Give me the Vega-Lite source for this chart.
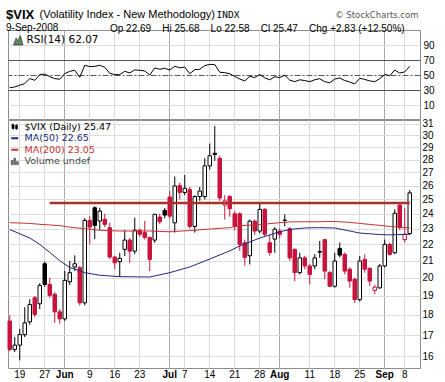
{
  "$schema": "https://vega.github.io/schema/vega-lite/v6.json",
  "padding": {"left": 5, "top": 7, "right": 0, "bottom": 0},
  "autosize": {"type": "pad"},
  "background": "white",
  "config": {
    "font": "Liberation Sans",
    "view": {"stroke": "#8c8c8c", "strokeWidth": 1},
    "axis": {"labelFont": "Liberation Sans", "labelFontSize": 10, "labelColor": "#000", "ticks": false, "domain": false, "titleFont": "Liberation Sans", "titleFontWeight": "normal", "titleColor": "#000"},
    "legend": {"labelFont": "DejaVu Sans", "labelFontSize": 9.5, "padding": 0, "offset": 2, "orient": "top-left", "title": null, "rowPadding": 0.5, "labelOffset": 4}
  },
  "datasets": {
    "ohlc": [
      {"date": "2008-05-15", "open": 17.69, "high": 17.99, "low": 16.24, "close": 16.32},
      {"date": "2008-05-16", "open": 16.32, "high": 16.9, "low": 16.2, "close": 16.52},
      {"date": "2008-05-19", "open": 16.52, "high": 17.3, "low": 15.82, "close": 17.02},
      {"date": "2008-05-20", "open": 17.02, "high": 18.4, "low": 16.9, "close": 17.6},
      {"date": "2008-05-21", "open": 17.65, "high": 18.82, "low": 17.5, "close": 18.54},
      {"date": "2008-05-22", "open": 18.9, "high": 19.0, "low": 17.9, "close": 18.03},
      {"date": "2008-05-23", "open": 18.58, "high": 19.7, "low": 18.3, "close": 19.58},
      {"date": "2008-05-27", "open": 20.82, "high": 20.95, "low": 19.5, "close": 19.63},
      {"date": "2008-05-28", "open": 19.63, "high": 20.0, "low": 18.9, "close": 19.03},
      {"date": "2008-05-29", "open": 19.09, "high": 19.2, "low": 17.6, "close": 18.16},
      {"date": "2008-05-30", "open": 18.16, "high": 18.3, "low": 17.55, "close": 17.8},
      {"date": "2008-06-02", "open": 17.8, "high": 20.39, "low": 17.7, "close": 19.86},
      {"date": "2008-06-03", "open": 19.78, "high": 20.98, "low": 19.6, "close": 20.3},
      {"date": "2008-06-04", "open": 20.63, "high": 21.32, "low": 20.4, "close": 20.82},
      {"date": "2008-06-05", "open": 20.59, "high": 20.7, "low": 18.5, "close": 18.63},
      {"date": "2008-06-06", "open": 18.63, "high": 23.7, "low": 18.5, "close": 23.55},
      {"date": "2008-06-09", "open": 23.55, "high": 23.85, "low": 22.0, "close": 23.11},
      {"date": "2008-06-10", "open": 24.41, "high": 24.5, "low": 22.33, "close": 23.22},
      {"date": "2008-06-11", "open": 23.51, "high": 24.41, "low": 22.92, "close": 24.18},
      {"date": "2008-06-12", "open": 23.62, "high": 24.0, "low": 23.1, "close": 23.29},
      {"date": "2008-06-13", "open": 23.07, "high": 23.4, "low": 21.1, "close": 21.22},
      {"date": "2008-06-16", "open": 21.22, "high": 21.3, "low": 20.5, "close": 20.88},
      {"date": "2008-06-17", "open": 20.94, "high": 21.48, "low": 20.06, "close": 21.14},
      {"date": "2008-06-18", "open": 21.69, "high": 22.9, "low": 21.28, "close": 22.27},
      {"date": "2008-06-19", "open": 22.27, "high": 22.4, "low": 20.88, "close": 21.58},
      {"date": "2008-06-20", "open": 21.58, "high": 23.73, "low": 21.4, "close": 22.9},
      {"date": "2008-06-23", "open": 22.9, "high": 23.0, "low": 22.5, "close": 22.64},
      {"date": "2008-06-24", "open": 22.75, "high": 23.51, "low": 22.3, "close": 22.43},
      {"date": "2008-06-25", "open": 22.43, "high": 22.5, "low": 20.39, "close": 21.08},
      {"date": "2008-06-26", "open": 22.27, "high": 24.0, "low": 22.1, "close": 23.96},
      {"date": "2008-06-27", "open": 23.78, "high": 24.0, "low": 23.3, "close": 23.46},
      {"date": "2008-06-30", "open": 24.23, "high": 24.4, "low": 23.7, "close": 23.91},
      {"date": "2008-07-01", "open": 25.17, "high": 25.6, "low": 23.7, "close": 23.84},
      {"date": "2008-07-02", "open": 23.39, "high": 26.68, "low": 22.75, "close": 25.97},
      {"date": "2008-07-03", "open": 26.0, "high": 26.2, "low": 25.0, "close": 25.5},
      {"date": "2008-07-07", "open": 25.5, "high": 26.8, "low": 25.3, "close": 25.8},
      {"date": "2008-07-08", "open": 25.7, "high": 25.9, "low": 23.0, "close": 23.15},
      {"date": "2008-07-09", "open": 23.15, "high": 25.3, "low": 22.75, "close": 25.2},
      {"date": "2008-07-10", "open": 25.2, "high": 25.9, "low": 24.9, "close": 25.6},
      {"date": "2008-07-11", "open": 25.2, "high": 28.1, "low": 25.0, "close": 27.5},
      {"date": "2008-07-14", "open": 27.5, "high": 29.3, "low": 27.2, "close": 28.3},
      {"date": "2008-07-15", "open": 28.5, "high": 30.8, "low": 27.9, "close": 28.4},
      {"date": "2008-07-16", "open": 28.1, "high": 28.3, "low": 24.9, "close": 25.1},
      {"date": "2008-07-17", "open": 24.6, "high": 25.3, "low": 23.6, "close": 24.9},
      {"date": "2008-07-18", "open": 25.2, "high": 25.3, "low": 23.8, "close": 24.35},
      {"date": "2008-07-21", "open": 24.0, "high": 24.2, "low": 22.9, "close": 23.15},
      {"date": "2008-07-22", "open": 24.0, "high": 24.1, "low": 21.6, "close": 22.0},
      {"date": "2008-07-23", "open": 22.1, "high": 22.3, "low": 20.7, "close": 21.2},
      {"date": "2008-07-24", "open": 21.3, "high": 23.6, "low": 20.78, "close": 23.5},
      {"date": "2008-07-25", "open": 23.5, "high": 23.6, "low": 22.6, "close": 22.85},
      {"date": "2008-07-28", "open": 22.85, "high": 24.7, "low": 22.7, "close": 24.3},
      {"date": "2008-07-29", "open": 24.3, "high": 24.4, "low": 22.5, "close": 22.64},
      {"date": "2008-07-30", "open": 22.1, "high": 22.6, "low": 21.3, "close": 21.5},
      {"date": "2008-07-31", "open": 22.33, "high": 23.1, "low": 21.48, "close": 22.97},
      {"date": "2008-08-01", "open": 22.85, "high": 23.0, "low": 22.4, "close": 22.64},
      {"date": "2008-08-04", "open": 23.57, "high": 23.96, "low": 23.15, "close": 23.55},
      {"date": "2008-08-05", "open": 23.0, "high": 23.1, "low": 21.0, "close": 21.17},
      {"date": "2008-08-06", "open": 21.69, "high": 21.75, "low": 19.82, "close": 20.3},
      {"date": "2008-08-07", "open": 20.3, "high": 21.48, "low": 20.2, "close": 21.17},
      {"date": "2008-08-08", "open": 21.17, "high": 21.3, "low": 20.5, "close": 20.69},
      {"date": "2008-08-11", "open": 20.69, "high": 20.8, "low": 19.63, "close": 20.2},
      {"date": "2008-08-12", "open": 20.69, "high": 21.4, "low": 20.5, "close": 21.17},
      {"date": "2008-08-13", "open": 21.56, "high": 22.21, "low": 21.17, "close": 21.52},
      {"date": "2008-08-14", "open": 22.3, "high": 22.35, "low": 19.92, "close": 20.39},
      {"date": "2008-08-15", "open": 20.3, "high": 20.4, "low": 19.5, "close": 19.53},
      {"date": "2008-08-18", "open": 19.53, "high": 21.48, "low": 19.45, "close": 20.98},
      {"date": "2008-08-19", "open": 21.75, "high": 22.11, "low": 21.2, "close": 21.34},
      {"date": "2008-08-20", "open": 21.38, "high": 21.5, "low": 20.2, "close": 20.39},
      {"date": "2008-08-21", "open": 20.5, "high": 20.6, "low": 19.44, "close": 19.82},
      {"date": "2008-08-22", "open": 19.92, "high": 20.0, "low": 18.63, "close": 18.8},
      {"date": "2008-08-25", "open": 18.8, "high": 21.28, "low": 18.7, "close": 20.98},
      {"date": "2008-08-26", "open": 21.08, "high": 21.38, "low": 20.3, "close": 20.5},
      {"date": "2008-08-27", "open": 20.55, "high": 20.6, "low": 19.53, "close": 19.82},
      {"date": "2008-08-28", "open": 19.3, "high": 19.6, "low": 19.1, "close": 19.48},
      {"date": "2008-08-29", "open": 19.44, "high": 20.8, "low": 19.4, "close": 20.69},
      {"date": "2008-09-02", "open": 20.69, "high": 22.3, "low": 20.6, "close": 22.0},
      {"date": "2008-09-03", "open": 22.0, "high": 22.1, "low": 21.3, "close": 21.38},
      {"date": "2008-09-04", "open": 21.48, "high": 24.3, "low": 21.4, "close": 24.03},
      {"date": "2008-09-05", "open": 24.6, "high": 24.8, "low": 22.9, "close": 23.07},
      {"date": "2008-09-08", "open": 22.3, "high": 24.4, "low": 22.1, "close": 22.64},
      {"date": "2008-09-09", "open": 22.69, "high": 25.68, "low": 22.58, "close": 25.47}
    ],
    "ma": [
      {"date": "2008-05-15", "ma50": 22.95, "ma200": 23.4},
      {"date": "2008-05-21", "ma50": 22.4, "ma200": 23.35},
      {"date": "2008-05-23", "ma50": 22.0, "ma200": 23.29},
      {"date": "2008-05-28", "ma50": 21.5, "ma200": 23.25},
      {"date": "2008-05-30", "ma50": 21.0, "ma200": 23.2},
      {"date": "2008-06-03", "ma50": 20.6, "ma200": 23.1},
      {"date": "2008-06-06", "ma50": 20.3, "ma200": 23.0},
      {"date": "2008-06-11", "ma50": 20.15, "ma200": 22.9},
      {"date": "2008-06-17", "ma50": 20.07, "ma200": 22.85},
      {"date": "2008-06-25", "ma50": 20.05, "ma200": 22.85},
      {"date": "2008-07-01", "ma50": 20.3, "ma200": 22.8},
      {"date": "2008-07-08", "ma50": 20.63, "ma200": 22.88},
      {"date": "2008-07-14", "ma50": 21.1, "ma200": 22.98},
      {"date": "2008-07-18", "ma50": 21.6, "ma200": 23.07},
      {"date": "2008-07-22", "ma50": 21.9, "ma200": 23.2},
      {"date": "2008-07-28", "ma50": 22.4, "ma200": 23.27},
      {"date": "2008-08-01", "ma50": 22.8, "ma200": 23.4},
      {"date": "2008-08-05", "ma50": 22.95, "ma200": 23.45},
      {"date": "2008-08-08", "ma50": 23.05, "ma200": 23.46},
      {"date": "2008-08-13", "ma50": 23.07, "ma200": 23.46},
      {"date": "2008-08-18", "ma50": 23.05, "ma200": 23.48},
      {"date": "2008-08-21", "ma50": 22.85, "ma200": 23.42},
      {"date": "2008-08-25", "ma50": 22.72, "ma200": 23.35},
      {"date": "2008-08-29", "ma50": 22.62, "ma200": 23.22},
      {"date": "2008-09-03", "ma50": 22.6, "ma200": 23.15},
      {"date": "2008-09-09", "ma50": 22.65, "ma200": 23.05}
    ],
    "rsi": [
      {"date": "2008-05-15", "rsi": 33.5}, {"date": "2008-05-16", "rsi": 34.4}, {"date": "2008-05-19", "rsi": 36.7},
      {"date": "2008-05-20", "rsi": 38.9}, {"date": "2008-05-21", "rsi": 45.6}, {"date": "2008-05-22", "rsi": 43.3},
      {"date": "2008-05-23", "rsi": 50.9}, {"date": "2008-05-27", "rsi": 51.5}, {"date": "2008-05-28", "rsi": 48.2},
      {"date": "2008-05-29", "rsi": 45.6}, {"date": "2008-05-30", "rsi": 44.7}, {"date": "2008-06-02", "rsi": 52.2},
      {"date": "2008-06-03", "rsi": 55.3}, {"date": "2008-06-04", "rsi": 56.7}, {"date": "2008-06-05", "rsi": 47.3},
      {"date": "2008-06-06", "rsi": 63.3}, {"date": "2008-06-09", "rsi": 61.6}, {"date": "2008-06-10", "rsi": 62.0},
      {"date": "2008-06-11", "rsi": 63.3}, {"date": "2008-06-12", "rsi": 60.7}, {"date": "2008-06-13", "rsi": 52.7},
      {"date": "2008-06-16", "rsi": 50.9}, {"date": "2008-06-17", "rsi": 50.9}, {"date": "2008-06-18", "rsi": 55.3},
      {"date": "2008-06-19", "rsi": 53.1}, {"date": "2008-06-20", "rsi": 57.1}, {"date": "2008-06-23", "rsi": 56.7},
      {"date": "2008-06-24", "rsi": 55.8}, {"date": "2008-06-25", "rsi": 50.4}, {"date": "2008-06-26", "rsi": 59.8},
      {"date": "2008-06-27", "rsi": 58.0}, {"date": "2008-06-30", "rsi": 59.3}, {"date": "2008-07-01", "rsi": 57.0},
      {"date": "2008-07-02", "rsi": 62.0}, {"date": "2008-07-03", "rsi": 60.0}, {"date": "2008-07-07", "rsi": 61.0},
      {"date": "2008-07-08", "rsi": 52.0}, {"date": "2008-07-09", "rsi": 57.5}, {"date": "2008-07-10", "rsi": 58.0},
      {"date": "2008-07-11", "rsi": 63.0}, {"date": "2008-07-14", "rsi": 64.5}, {"date": "2008-07-15", "rsi": 64.4},
      {"date": "2008-07-16", "rsi": 54.0}, {"date": "2008-07-17", "rsi": 53.5}, {"date": "2008-07-18", "rsi": 52.0},
      {"date": "2008-07-21", "rsi": 48.5}, {"date": "2008-07-22", "rsi": 45.0}, {"date": "2008-07-23", "rsi": 42.5},
      {"date": "2008-07-24", "rsi": 48.5}, {"date": "2008-07-25", "rsi": 47.0}, {"date": "2008-07-28", "rsi": 51.0},
      {"date": "2008-07-29", "rsi": 46.5}, {"date": "2008-07-30", "rsi": 44.0}, {"date": "2008-07-31", "rsi": 48.0},
      {"date": "2008-08-01", "rsi": 47.0}, {"date": "2008-08-04", "rsi": 50.0}, {"date": "2008-08-05", "rsi": 43.5},
      {"date": "2008-08-06", "rsi": 41.5}, {"date": "2008-08-07", "rsi": 44.0}, {"date": "2008-08-08", "rsi": 43.0},
      {"date": "2008-08-11", "rsi": 41.5}, {"date": "2008-08-12", "rsi": 44.0}, {"date": "2008-08-13", "rsi": 45.5},
      {"date": "2008-08-14", "rsi": 41.5}, {"date": "2008-08-15", "rsi": 40.0}, {"date": "2008-08-18", "rsi": 45.0},
      {"date": "2008-08-19", "rsi": 46.5}, {"date": "2008-08-20", "rsi": 43.0}, {"date": "2008-08-21", "rsi": 41.0},
      {"date": "2008-08-22", "rsi": 38.5}, {"date": "2008-08-25", "rsi": 46.0}, {"date": "2008-08-26", "rsi": 44.5},
      {"date": "2008-08-27", "rsi": 42.5}, {"date": "2008-08-28", "rsi": 41.5}, {"date": "2008-08-29", "rsi": 45.5},
      {"date": "2008-09-02", "rsi": 51.0}, {"date": "2008-09-03", "rsi": 49.5}, {"date": "2008-09-04", "rsi": 57.0},
      {"date": "2008-09-05", "rsi": 53.0}, {"date": "2008-09-08", "rsi": 54.5}, {"date": "2008-09-09", "rsi": 62.07}
    ]
  },
  "spacing": 1,
  "bounds": "flush",
  "resolve": {"scale": {"stroke": "independent"}, "legend": {"stroke": "independent"}},
  "vconcat": [
    {
      "width": 412,
      "height": 89,
      "title": {"text": "$VIX", "subtitle": "9-Sep-2008", "anchor": "start", "frame": "group", "offset": 1, "dx": -2, "dy": 26, "font": "Liberation Sans", "fontSize": 13, "fontWeight": "bold", "color": "#000", "subtitleFont": "Liberation Sans", "subtitleFontSize": 10, "subtitleColor": "#000", "subtitlePadding": 1},
      "data": {"name": "rsi"},
      "mark": {"type": "line", "strokeWidth": 1, "interpolate": "linear"},
      "encoding": {
        "x": {
          "field": "date", "type": "ordinal",
          "scale": {"type": "band", "paddingInner": 0.3, "paddingOuter": 0.85, "align": 0},
          "axis": {
            "orient": "top", "labels": false, "grid": true,
            "values": ["2008-05-19", "2008-05-27", "2008-06-02", "2008-06-09", "2008-06-16", "2008-06-23", "2008-07-01", "2008-07-07", "2008-07-14", "2008-07-21", "2008-07-28", "2008-08-01", "2008-08-11", "2008-08-18", "2008-08-25", "2008-09-02", "2008-09-08"],
            "gridColor": {"condition": {"test": "indexof(['2008-06-02','2008-07-01','2008-08-01','2008-09-02'], datum.value) >= 0", "value": "#a8a8a8"}, "value": "#d9d9d9"},
            "title": "(Volatility Index - New Methodology)", "titleX": 31, "titleY": -13, "titleAlign": "left", "titleAnchor": null, "titleBaseline": "alphabetic", "titleFontSize": 11
          }
        },
        "y": {
          "field": "rsi", "type": "quantitative",
          "scale": {"domain": [-8.3, 110.4], "nice": false, "zero": false},
          "axis": {
            "orient": "right", "values": [10, 30, 50, 70, 90], "grid": true, "labelPadding": 3,
            "gridColor": {"condition": {"test": "datum.value == 30 || datum.value == 50 || datum.value == 70", "value": "#555555"}, "value": "#dddddd"},
            "gridDash": {"condition": {"test": "datum.value == 50", "value": [6, 2, 2, 2]}, "value": []},
            "title": "INDX", "titleX": -204, "titleY": -13, "titleAngle": 0, "titleAlign": "left", "titleAnchor": null, "titleBaseline": "alphabetic", "titleFont": "DejaVu Sans Mono", "titleFontSize": 9.5
          }
        },
        "stroke": {
          "datum": "RSI(14) 62.07",
          "scale": {"domain": ["RSI(14) 62.07"], "range": ["#000000"]},
          "legend": {"symbolType": "M-1,1L-0.45,-0.5L-0.1,0.1L0.45,-1L1,1Z", "symbolFillColor": "#5f8a5f", "symbolStrokeColor": "#5f8a5f", "symbolStrokeWidth": 0.5, "symbolSize": 90, "labelFontSize": 10.5, "labelOffset": 3, "offset": 5}
        }
      }
    },
    {
      "width": 412,
      "height": 248,
      "title": {
        "text": "Op 22.69\u00a0\u00a0\u00a0 Hi 25.68\u00a0\u00a0\u00a0 Lo 22.58\u00a0\u00a0\u00a0 Cl 25.47\u00a0\u00a0\u00a0 Chg +2.83 (+12.50%)",
        "anchor": "start", "frame": "group", "offset": 0, "dx": 102, "dy": 23.5,
        "font": "Liberation Sans", "fontSize": 10, "fontWeight": "normal", "color": "#000"
      },
      "layer": [
        {
          "data": {"name": "ohlc"},
          "transform": [{"window": [{"op": "lag", "field": "close", "as": "prev"}], "sort": [{"field": "date"}]}],
          "mark": {"type": "rule", "strokeWidth": 1},
          "encoding": {
            "x": {
              "field": "date", "type": "ordinal",
              "scale": {"type": "band", "paddingInner": 0.3, "paddingOuter": 0.85, "align": 0},
              "axis": {
                "orient": "bottom", "grid": true, "labelAngle": 0, "labelPadding": 1, "labelFontSize": 10,
                "values": ["2008-05-19", "2008-05-27", "2008-06-02", "2008-06-09", "2008-06-16", "2008-06-23", "2008-07-01", "2008-07-07", "2008-07-14", "2008-07-21", "2008-07-28", "2008-08-01", "2008-08-11", "2008-08-18", "2008-08-25", "2008-09-02", "2008-09-08"],
                "labelExpr": "datum.value == '2008-06-02' ? 'Jun' : datum.value == '2008-07-01' ? 'Jul' : datum.value == '2008-08-01' ? 'Aug' : datum.value == '2008-09-02' ? 'Sep' : '' + toNumber(slice(datum.value, 8))",
                "labelFontWeight": {"condition": {"test": "indexof(['2008-06-02','2008-07-01','2008-08-01','2008-09-02'], datum.value) >= 0", "value": "bold"}, "value": "normal"},
                "gridColor": {"condition": {"test": "indexof(['2008-06-02','2008-07-01','2008-08-01','2008-09-02'], datum.value) >= 0", "value": "#a8a8a8"}, "value": "#d9d9d9"},
                "title": null
              }
            },
            "y": {
              "field": "low", "type": "quantitative",
              "scale": {"type": "log", "domain": [15.48, 31.33], "nice": false, "zero": false},
              "axis": {"orient": "right", "values": [16, 17, 18, 19, 20, 21, 22, 23, 24, 25, 26, 27, 28, 29, 30, 31], "grid": true, "gridColor": "#dddddd", "labelPadding": 2,
                "title": "\u00a9 StockCharts.com", "titleX": -2, "titleY": -103, "titleAngle": 0, "titleAlign": "right", "titleAnchor": null, "titleBaseline": "alphabetic", "titleFont": "DejaVu Sans", "titleFontSize": 8.5, "titleColor": "#555555"}
            },
            "y2": {"field": "high"},
            "stroke": {"condition": {"test": "datum.prev != null && datum.close >= datum.prev", "value": "#000000"}, "value": "#c8143c"}
          }
        },
        {
          "data": {"name": "ohlc"},
          "transform": [{"window": [{"op": "lag", "field": "close", "as": "prev"}], "sort": [{"field": "date"}]}],
          "mark": {"type": "bar", "strokeWidth": 1},
          "encoding": {
            "x": {"field": "date", "type": "ordinal"},
            "y": {"field": "open", "type": "quantitative", "scale": {"type": "log", "domain": [15.48, 31.33], "nice": false, "zero": false}},
            "y2": {"field": "close"},
            "fill": {"condition": [{"test": "datum.close >= datum.open", "value": "#ffffff"}, {"test": "datum.prev != null && datum.close >= datum.prev", "value": "#000000"}], "value": "#c8143c"},
            "stroke": {"condition": {"test": "datum.prev != null && datum.close >= datum.prev", "value": "#000000"}, "value": "#c8143c"}
          }
        },
        {
          "data": {"name": "ma"},
          "mark": {"type": "line", "strokeWidth": 1},
          "encoding": {
            "x": {"field": "date", "type": "ordinal"},
            "y": {"field": "ma200", "type": "quantitative", "scale": {"type": "log", "domain": [15.48, 31.33], "nice": false, "zero": false}},
            "stroke": {
              "datum": "MA(200) 23.05",
              "scale": {"domain": ["$VIX (Daily) 25.47", "MA(50) 22.65", "MA(200) 23.05", "Volume undef"], "range": ["#000000", "#1e2a78", "#c83232", "#555555"]},
              "legend": {"symbolType": "stroke", "symbolStrokeWidth": 2, "symbolSize": 49, "offset": 2, "labelOffset": 5,
                "encoding": {
                  "labels": {"fill": {"value": {"expr": "datum.label == 'MA(50) 22.65' ? '#1e2a78' : datum.label == 'MA(200) 23.05' ? '#c83232' : datum.label == 'Volume undef' ? '#444444' : '#000000'"}}},
                  "symbols": {
                    "shape": {"value": {"expr": "datum.value == '$VIX (Daily) 25.47' ? 'M-0.5,-1V1M-0.8,-0.6H-0.2V0.5H-0.8ZM0.5,-0.8V0.9M0.2,-0.4H0.8V0.6H0.2Z' : datum.value == 'Volume undef' ? 'M-1,1V-0.2H-0.5V1ZM-0.25,1V-0.9H0.25V1ZM0.5,1V0.1H1V1Z' : 'stroke'"}},
                    "fill": {"value": {"expr": "datum.value == 'Volume undef' ? '#666666' : datum.value == '$VIX (Daily) 25.47' ? '#000000' : 'transparent'"}},
                    "strokeWidth": {"value": {"expr": "datum.value == 'MA(50) 22.65' || datum.value == 'MA(200) 23.05' ? 2 : 0.6"}}
                  }
                }
              }
            }
          }
        },
        {
          "data": {"name": "ma"},
          "mark": {"type": "line", "strokeWidth": 1},
          "encoding": {
            "x": {"field": "date", "type": "ordinal"},
            "y": {"field": "ma50", "type": "quantitative", "scale": {"type": "log", "domain": [15.48, 31.33], "nice": false, "zero": false}},
            "stroke": {"datum": "MA(50) 22.65"}
          }
        },
        {
          "data": {"values": [{"from": "2008-05-28", "to": "2008-09-09", "level": 24.75}]},
          "mark": {"type": "rule", "strokeWidth": 2.5, "color": "#a8332a"},
          "encoding": {
            "x": {"field": "from", "type": "ordinal"},
            "x2": {"field": "to"},
            "y": {"field": "level", "type": "quantitative", "scale": {"type": "log", "domain": [15.48, 31.33], "nice": false, "zero": false}}
          }
        }
      ]
    }
  ]
}
